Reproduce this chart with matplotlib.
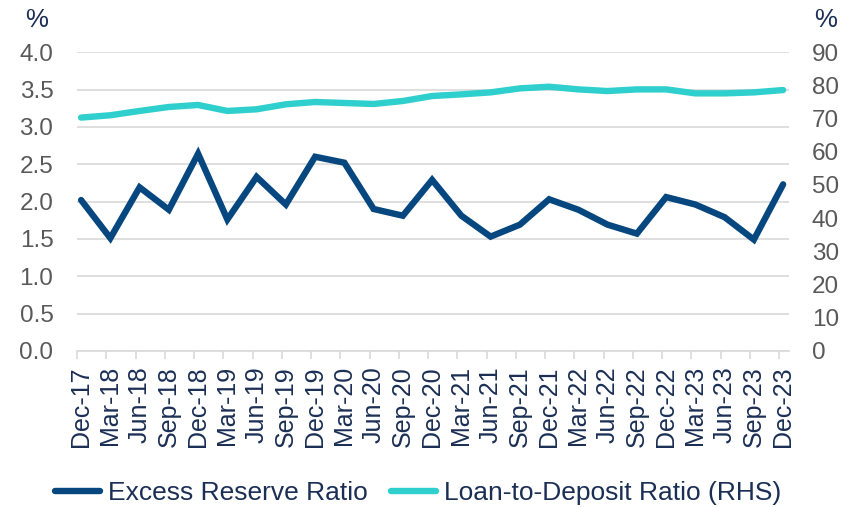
import numpy as np
import matplotlib
matplotlib.use("Agg")
import matplotlib.pyplot as plt

plt.rcParams['font.family'] = ['Liberation Sans', 'DejaVu Sans']

# Квартальные данные, дек-17 ... дек-23
QUARTERS = ['Dec-17', 'Mar-18', 'Jun-18', 'Sep-18', 'Dec-18', 'Mar-19', 'Jun-19',
            'Sep-19', 'Dec-19', 'Mar-20', 'Jun-20', 'Sep-20', 'Dec-20', 'Mar-21',
            'Jun-21', 'Sep-21', 'Dec-21', 'Mar-22', 'Jun-22', 'Sep-22', 'Dec-22',
            'Mar-23', 'Jun-23', 'Sep-23', 'Dec-23']
EXCESS_RESERVE = [2.02, 1.51, 2.19, 1.89, 2.64, 1.76, 2.33, 1.96, 2.60, 2.52, 1.90,
                  1.81, 2.29, 1.81, 1.53, 1.69, 2.03, 1.89, 1.69, 1.57, 2.06, 1.96,
                  1.79, 1.49, 2.23]
LOAN_TO_DEPOSIT = [70.3, 71.0, 72.3, 73.5, 74.1, 72.3, 72.8, 74.3, 75.0, 74.7, 74.4,
                   75.3, 76.8, 77.3, 77.9, 79.1, 79.6, 78.8, 78.3, 78.8, 78.8, 77.6,
                   77.6, 77.9, 78.6]
LEFT_TICKS = np.arange(0, 4.01, 0.5)
RIGHT_TICKS = np.arange(0, 91, 10)

DARK = '#06477f'
TEAL = '#2ecfcd'
GRID = '#d9d9d9'
LABEL_GREY = '#595959'
NAVY = '#1b2f55'

x = np.arange(len(QUARTERS))
tick_shift = 0.14

fig = plt.figure(figsize=(8.5, 5.07), dpi=100)
ax = fig.add_axes([0.0906, 0.308, 0.8376, 0.589])
ax2 = ax.twinx()

ax.plot(x, EXCESS_RESERVE, color=DARK, lw=4.6, solid_capstyle='round',
        solid_joinstyle='miter', label='Excess Reserve Ratio', zorder=3)
ax2.plot(x, LOAN_TO_DEPOSIT, color=TEAL, lw=4.6, solid_capstyle='round',
         label='Loan-to-Deposit Ratio (RHS)', zorder=3)

ax.set_xlim(-tick_shift, 24.2)
ax.set_ylim(0, 4.0)
ax2.set_ylim(0, 90)
ax.set_yticks(LEFT_TICKS)
ax.set_yticklabels([f'{v:.1f}' for v in LEFT_TICKS])
ax2.set_yticks(RIGHT_TICKS)
ax2.set_yticklabels([f'{v:d}' for v in RIGHT_TICKS])

ax.yaxis.grid(True, color=GRID, lw=1.2)
ax.set_axisbelow(True)

# подписи по точкам, засечки чуть левее
ax.set_xticks(x)
ax.set_xticklabels(QUARTERS, rotation=90, fontsize=18, color=NAVY)
ax.set_xticks(x - tick_shift, minor=True)
ax.tick_params(axis='x', which='major', length=0, pad=11)
ax.tick_params(axis='x', which='minor', length=6, width=1.2, color=GRID, direction='out')

ax.tick_params(axis='y', length=0, pad=17, labelsize=17.5, labelcolor=LABEL_GREY)
ax2.tick_params(axis='y', length=0, pad=16.5, labelsize=17.5, labelcolor=LABEL_GREY)

for a in (ax, ax2):
    for side in ('top', 'left', 'right', 'bottom'):
        a.spines[side].set_visible(False)
ax.spines['bottom'].set_visible(True)
ax.spines['bottom'].set_color(GRID)
ax.spines['bottom'].set_linewidth(1.2)

fig.text(37 / 850, 1 - 20 / 507, '%', ha='center', va='center', fontsize=18.5, color=NAVY)
fig.text(826 / 850, 1 - 20 / 507, '%', ha='center', va='center', fontsize=18.5, color=NAVY)

h1, l1 = ax.get_legend_handles_labels()
h2, l2 = ax2.get_legend_handles_labels()
fig.legend(h1 + h2, l1 + l2, loc='center', bbox_to_anchor=(0.492, 1 - 493 / 507),
           ncol=2, frameon=False, fontsize=19, labelcolor=NAVY,
           handlelength=1.7, handletextpad=0.3, columnspacing=0.9)

fig.savefig('out.png', dpi=100)
